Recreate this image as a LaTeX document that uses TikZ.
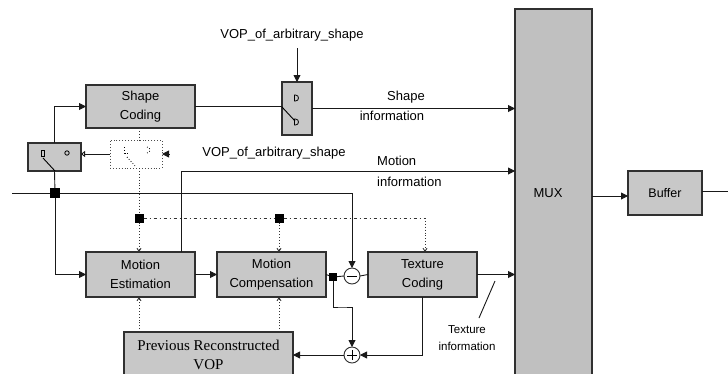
\documentclass[tikz,border=0pt]{standalone}
\usepackage{fontspec}
\setmainfont{Liberation Sans}
\newfontfamily\prvfont{Liberation Serif}
\usetikzlibrary{arrows.meta,calc}
\definecolor{boxgray}{HTML}{C8C8C8}
\definecolor{muxgray}{HTML}{C0C0C0}
\definecolor{edgec}{HTML}{303030}
\begin{document}
\begin{tikzpicture}[x=1pt,y=-1pt,
  blk/.style={draw=edgec, fill=boxgray, line width=1.2pt, inner sep=0pt, outer sep=0pt, align=center, font=\fontsize{13}{19}\selectfont},
  conn/.style={draw=black!90, line width=0.9pt},
  arr/.style={conn, -{Triangle[length=7pt,width=7pt]}},
  dotl/.style={draw=black!80, line width=0.9pt, dotted},
  darr/.style={dotl, -{Straight Barb[length=3pt,width=4pt]}},
  dashdot/.style={draw=black!80, line width=0.9pt, dash pattern=on 3pt off 3pt on 1pt off 3pt},
  jn/.style={fill=black, inner sep=0pt, outer sep=0pt},
  lbl/.style={font=\fontsize{13}{15}\selectfont, inner sep=0pt},
  sumc/.style={circle, draw=edgec, fill=white, line width=0.9pt, minimum size=16pt, inner sep=0pt, outer sep=0pt}
]
\useasboundingbox (0,0) rectangle (728,373);
\clip (0,0) rectangle (728,373);
\fill[white] (0,0) rectangle (728,373);

% blocks
\node[blk, minimum width=109pt, minimum height=43pt] (sc) at (140.5,106.5) {Shape\\Coding};
\node[blk, minimum width=53pt, minimum height=28pt] (sw1) at (54.5,157) {};
\node[draw=black!70, dotted, line width=0.9pt, minimum width=52pt, minimum height=28pt, inner sep=0pt, outer sep=0pt] (dsw) at (136,154) {};
\node[blk, minimum width=30pt, minimum height=53pt] (sw2) at (297,108.5) {};
\node[blk, minimum width=109pt, minimum height=45pt] (me) at (140.5,274.5) {Motion\\Estimation};
\node[blk, minimum width=109pt, minimum height=45pt] (mc) at (271.5,274.5) {Motion\\Compensation};
\node[blk, minimum width=109pt, minimum height=45pt] (tc) at (422.5,274.5) {Texture\\Coding};
\node[blk, minimum width=169pt, minimum height=46pt, font=\prvfont\fontsize{15}{19}\selectfont] (prv) at (208.5,355) {Previous Reconstructed\\VOP};
\node[blk, fill=muxgray, minimum width=77pt, minimum height=380pt] (mux) at (553.5,199) {};
\node[lbl] (muxt) at (548,193) {MUX};
\node[blk, fill=boxgray, minimum width=74pt, minimum height=44pt, font=\fontsize{12.5}{15}\selectfont] (buf) at (665,193) {Buffer};
\node[sumc] (minus) at (352,276) {};
\node[sumc] (plus) at (352,355) {};
\draw[line width=0.9pt] (347,276) -- (357,276);
\draw[line width=0.9pt] (347,355) -- (357,355) (352,350) -- (352,360);

% junctions
\node[jn, minimum size=10pt] (j1) at (55,193) {};
\node[jn, minimum size=9pt] (j2) at (139,218) {};
\node[jn, minimum size=9pt] (j3) at (279,218) {};
\node[jn, minimum size=8pt] (j4) at (333,277) {};

% switch internals
\draw[line width=0.8pt] (41.5,150) rectangle (44.5,156);
\draw[line width=0.8pt] (67,153) circle (2.2pt);
\draw[line width=0.9pt] (43,158) -- (55,171);
\draw[line width=0.8pt] (294.5,95) -- (295.5,95) .. controls (299.5,95) and (299.5,101) .. (295.5,101) -- (294.5,101) -- cycle;
\draw[line width=0.8pt] (294.5,119) -- (295.5,119) .. controls (299.5,119) and (299.5,125) .. (295.5,125) -- (294.5,125) -- cycle;
\draw[line width=0.9pt] (282,107) -- (295,121);
\draw[dotted, line width=0.8pt] (124.5,147) -- (124.5,153) -- (127,153);
\draw[dotted, line width=0.8pt] (147,147) .. controls (151,147) and (151,153) .. (147,153);
\draw[dotted, line width=0.8pt] (127,157) -- (136,167);

% coordinates
\coordinate (inl) at (12,193);
\coordinate (vtop) at (297,48);
\coordinate (mx) at (181,171);
\coordinate (tcin) at (425,218);
\coordinate (b1) at (342,307);
\coordinate (tick1) at (495,281);
\coordinate (tick2) at (479,318);
\coordinate (outr) at (728,191);

% solid connectors
\draw[conn] (inl) -- (j1);
\draw[conn] (j1) -- (sw1.south);
\draw[arr] (sw1.north) |- (sc.west);
\draw[arr] (j1.south) |- (me.west);
\draw[arr] (j1.east) -| (minus.north);
\draw[conn] (sc.east) -- (sc.east -| sw2.west);
\draw[arr] (sw2.east) -- (sw2.east -| mux.west);
\draw[arr] (vtop) -- (vtop |- sw2.north);
\draw[conn, -{Triangle[open,length=4pt,width=6pt]}] (dsw.west) -- (dsw.west -| sw1.east);
\draw[arr] ([xshift=7pt]dsw.east) -- (dsw.east);
\draw[arr] (mx |- me.north) -- (mx) -- (mx -| mux.west);
\draw[arr] (me.east) -- (mc.west);
\draw[conn] (mc.east) -- (j4) -- (minus.west);
\draw[conn] (minus.east) -- (tc.west);
\draw[arr] (j4.south) |- (b1) -| (plus.north);
\draw[arr] (tc.south) |- (plus.east);
\draw[arr] (plus.west) -- (plus.west -| prv.east);
\draw[arr] (tc.east) -- (tc.east -| mux.west);
\draw[conn] (tick1) -- (tick2);
\draw[arr] (mux.east |- 0,196) -- (buf.west |- 0,196);
\draw[conn] (buf.east |- outr) -- (outr);

% dotted connectors
\draw[dotl] (j2 |- sc.south) -- (j2 |- dsw.north);
\draw[dotl] (j2 |- dsw.south) -- (j2);
\draw[darr] (j2) -- (j2 |- me.north);
\draw[dashdot] (j2) -- (j3) -- (tcin);
\draw[darr] (tcin) -- (tcin |- tc.north);
\draw[darr] (j3) -- (j3 |- mc.north);
\draw[darr] (j2 |- prv.north) -- (j2 |- me.south);
\draw[darr] (j3 |- prv.north) -- (j3 |- mc.south);

% labels
\node[lbl] (vop1) at (292,35) {VOP\_of\_arbitrary\_shape};
\node[lbl] (vop2) at (274,153) {VOP\_of\_arbitrary\_shape};
\node[lbl] (shp1) at (406,97) {Shape};
\node[lbl] (shp2) at (392,116) {information};
\node[lbl, anchor=west, align=left, font=\fontsize{13}{21}\selectfont] (mot) at (377,171.5) {Motion\\information};
\node[lbl, align=center, font=\fontsize{11.5}{17}\selectfont] (tex) at (467,338) {Texture\\information};
\end{tikzpicture}
\end{document}
